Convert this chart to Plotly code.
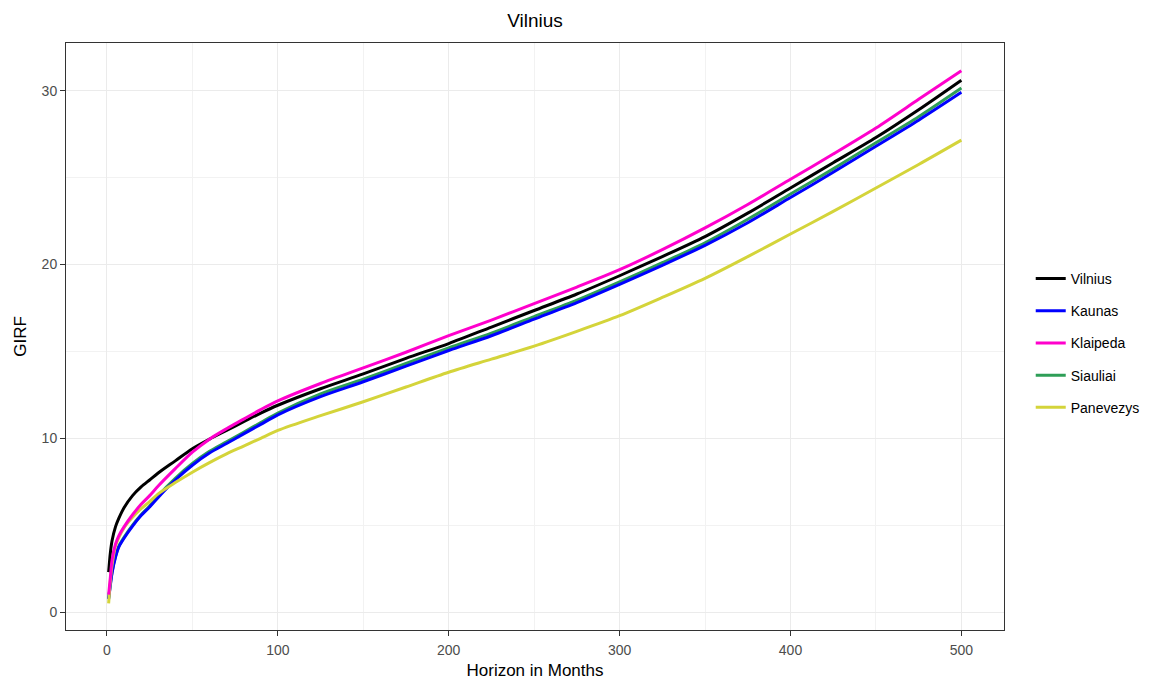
import plotly.graph_objects as go

horizon = [1, 2, 3, 5, 7, 10, 15, 20, 25, 30, 40, 50, 60, 70, 80, 90, 100,
           125, 150, 175, 200, 225, 250, 275, 300, 325, 350, 375, 400, 425, 450, 475, 500]

vilnius = [2.3, 3.4, 4.1, 4.9, 5.4, 6.0, 6.7, 7.2, 7.6, 8.0, 8.7, 9.4, 9.95, 10.45, 10.95, 11.45, 11.9,
           12.85, 13.7, 14.6, 15.45, 16.4, 17.35, 18.3, 19.35, 20.45, 21.6, 22.95, 24.4, 25.85, 27.3, 28.9, 30.6]
kaunas = [0.75, 1.55, 2.25, 3.15, 3.75, 4.25, 4.95, 5.55, 6.05, 6.6, 7.6, 8.45, 9.15, 9.7, 10.25, 10.8, 11.35,
          12.4, 13.25, 14.15, 15.05, 15.9, 16.85, 17.8, 18.85, 19.95, 21.1, 22.4, 23.85, 25.3, 26.8, 28.3, 29.9]
klaipeda = [1.0, 2.0, 3.0, 3.9, 4.4, 4.9, 5.6, 6.2, 6.7, 7.25, 8.25, 9.2, 9.95, 10.55, 11.1, 11.65, 12.15,
            13.15, 14.05, 14.95, 15.9, 16.8, 17.75, 18.7, 19.7, 20.85, 22.1, 23.45, 24.9, 26.35, 27.85, 29.5, 31.15]
siauliai = [0.8, 1.6, 2.3, 3.2, 3.8, 4.3, 5.0, 5.6, 6.1, 6.7, 7.7, 8.55, 9.25, 9.8, 10.35, 10.9, 11.45,
            12.55, 13.4, 14.3, 15.2, 16.05, 17.0, 17.95, 19.0, 20.1, 21.25, 22.6, 24.05, 25.5, 27.0, 28.5, 30.15]
panevezys = [0.5, 1.8, 2.7, 3.8, 4.3, 4.85, 5.45, 5.95, 6.35, 6.8, 7.45, 8.05, 8.6, 9.1, 9.55, 10.0, 10.45,
             11.3, 12.1, 12.95, 13.8, 14.55, 15.3, 16.15, 17.05, 18.1, 19.2, 20.45, 21.75, 23.05, 24.4, 25.75, 27.15]

series_names = ["Vilnius", "Kaunas", "Klaipeda", "Siauliai", "Panevezys"]
series_values = [vilnius, kaunas, klaipeda, siauliai, panevezys]
series_colors = ["#000000", "#0000ff", "#ff00cc", "#2e9e57", "#d4d43a"]

x_ticks = [0, 100, 200, 300, 400, 500]
y_ticks = [0, 10, 20, 30]

FONT = "Liberation Sans, Arial, sans-serif"

fig = go.Figure()
draw_order = [3, 1, 4, 0, 2]  # Klaipeda drawn on top, as in reference
for k in draw_order:
    fig.add_trace(go.Scatter(
        x=horizon, y=series_values[k], name=series_names[k], mode="lines",
        line=dict(color=series_colors[k], width=3, shape="spline", smoothing=0.8),
        legendgroup=series_names[k], legendrank=k + 1,
    ))

axis_common = dict(
    showline=True, linecolor="#333333", linewidth=1, mirror=True,
    ticks="outside", ticklen=5, tickcolor="#333333",
    showgrid=True, gridcolor="#ebebeb", gridwidth=1,
    zeroline=False, automargin=False,
    tickfont=dict(family=FONT, size=14, color="#4d4d4d"),
)

# The page body has an 8px margin, so the figure is offset by 8px
W, H = 1153, 675
fig.update_layout(
    width=W, height=H,
    paper_bgcolor="white", plot_bgcolor="white",
    margin=dict(l=58, r=157, t=35, b=53, autoexpand=False),
    title=dict(text="Vilnius", x=(58 + (W - 157)) / 2 / W, xanchor="center", y=1 - 12 / H, yanchor="middle",
               font=dict(family=FONT, size=19, color="#000000")),
    font=dict(family=FONT, color="#000000"),
    xaxis=dict(range=[-23.95, 524.95], tickvals=x_ticks,
               minor=dict(dtick=50, tick0=0, showgrid=True, gridcolor="#f2f2f2", ticks=""),
               title=dict(text="Horizon in Months", font=dict(size=17, color="#000000"), standoff=7),
               ticklabelstandoff=2,
               **axis_common),
    yaxis=dict(range=[-1.03, 32.74], tickvals=y_ticks,
               minor=dict(dtick=5, tick0=0, showgrid=True, gridcolor="#f2f2f2", ticks=""),
               title=dict(text="GIRF", font=dict(size=17, color="#000000"), standoff=10),
               **axis_common),
    legend=dict(x=1.0285, xanchor="left", y=0.489, yanchor="middle",
                font=dict(size=14, color="#000000"), tracegroupgap=11,
                bgcolor="rgba(0,0,0,0)", itemwidth=30),
)

fig.write_html("out.html")
